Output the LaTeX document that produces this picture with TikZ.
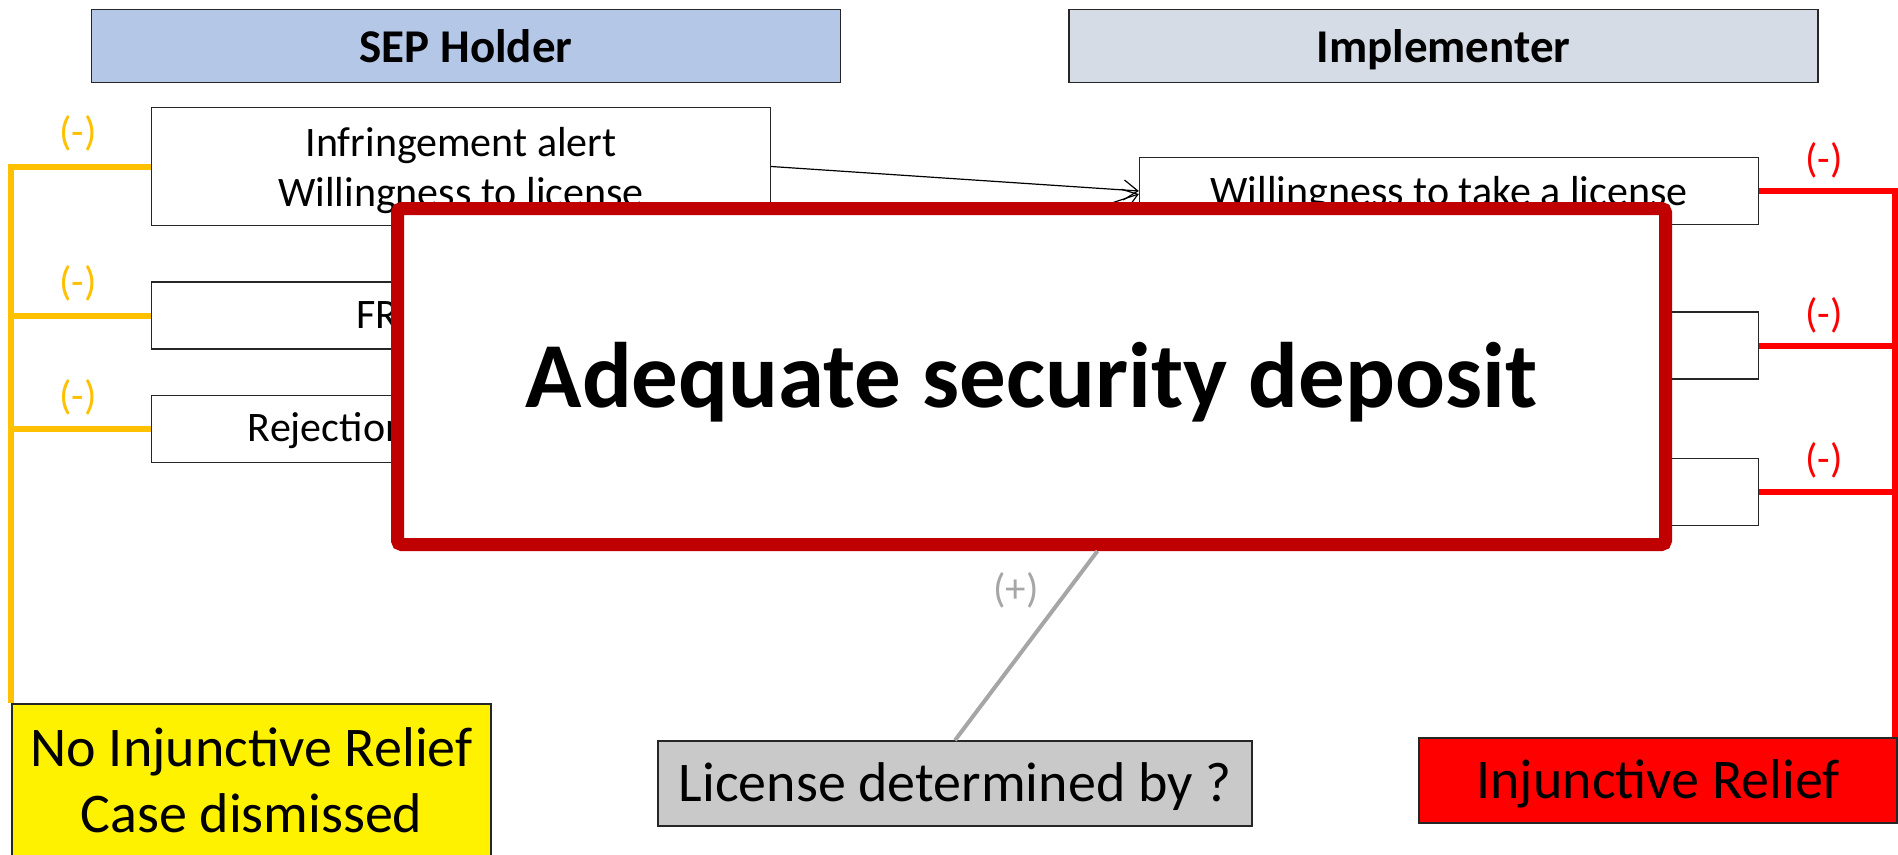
\documentclass[tikz,border=0pt]{standalone}
\usepackage{fontspec}
\setmainfont{Carlito}
\usetikzlibrary{arrows.meta}
\definecolor{hdrA}{HTML}{B4C7E7}
\definecolor{hdrB}{HTML}{D6DCE5}
\definecolor{orng}{HTML}{FFC000}
\definecolor{dred}{HTML}{C00000}
\definecolor{gbox}{HTML}{C9C9C9}
\definecolor{gline}{HTML}{A6A6A6}
\definecolor{edge}{HTML}{262626}
\begin{document}
\begin{tikzpicture}[x=1pt,y=-1pt,
  hdr/.style={draw=edge, line width=1.5pt, minimum width=749pt, minimum height=73pt, inner sep=0pt, text height=32pt, text depth=0pt, font=\fontsize{47}{55}\selectfont\bfseries},
  stepbox/.style={draw=edge, line width=1.3pt, fill=white, minimum width=619pt, inner sep=0pt, align=center, font=\fontsize{42}{50}\selectfont},
  oneline/.style={text height=28pt, text depth=3pt},
  outcome/.style={draw=edge, line width=1.5pt, inner sep=0pt, align=center, font=\fontsize{56}{66}\selectfont},
  obus/.style={draw=orng, line width=6pt},
  rbus/.style={draw=red, line width=6pt},
  flowarrow/.style={draw=black, line width=1.2pt, -{Straight Barb[length=14pt,width=20pt,line width=1.2pt]}},
  secbox/.style={draw=dred, line width=13pt, fill=white, rounded corners=4pt, minimum width=1268pt, minimum height=336pt, inner sep=0pt, text height=61pt, text depth=0pt, font=\fontsize{93}{110}\selectfont\bfseries},
  lab/.style={inner sep=0pt, font=\fontsize{41}{48}\selectfont}
]
\useasboundingbox (0,0) rectangle (1898,854);
% headers
\node[hdr, fill=hdrA] (sep) at (466,46) {SEP Holder};
\node[hdr, fill=hdrB] (imp) at (1443.5,46) {Implementer};
% step boxes
\node[stepbox, minimum height=118pt, text depth=0pt] (inf) at (461,166.5) {Infringement alert\\Willingness to license};
\node[stepbox, oneline, minimum height=67pt] (frand) at (461,315.5) {FRAND offer};
\node[stepbox, oneline, minimum height=67pt] (rej) at (461,429) {Rejection of counteroffer};
\node[stepbox, text height=29pt, text depth=0pt, minimum height=67pt] (will) at (1449,191) {Willingness to take a license};
\node[stepbox, minimum height=67pt] (imp2) at (1449,345.5) {};
\node[stepbox, minimum height=67pt] (imp3) at (1449,492) {};
% outcomes
\node[outcome, fill=yellow, minimum width=479pt, minimum height=152pt] (noinj) at (251.5,780) {No Injunctive Relief\\Case dismissed};
\node[outcome, text height=40pt, text depth=4pt, fill=gbox, minimum width=594pt, minimum height=85pt] (lic) at (955,783.5) {License determined by ?};
\node[outcome, text height=40pt, text depth=4pt, fill=red, minimum width=478pt, minimum height=85pt] (inj) at (1658,780.5) {Injunctive Relief};
% buses
\draw[obus] (inf.west) -| (noinj.north west);
\draw[obus] (frand.west) -- (frand.west -| noinj.west);
\draw[obus] (rej.west) -- (rej.west -| noinj.west);
\coordinate (bus) at ([xshift=-3pt]inj.north east);
\draw[rbus] (will.east) -| (bus);
\draw[rbus] (imp2.east) -- (imp2.east -| bus);
\draw[rbus] (imp3.east) -- (imp3.east -| bus);
% arrows
\draw[flowarrow] (inf.east) -- (will.west);
\draw[flowarrow] (frand.east) -- ([yshift=-3pt]will.west);
% overlay
\node[secbox] (sec) at (1031.5,376.5) {Adequate security deposit};
\draw[gline, line width=4pt] (lic.north) -- ([xshift=66pt]sec.south);
% labels
\node[lab, text=orng] (lo1) at (78,133) {(-)};
\node[lab, text=orng] (lo2) at (78,283) {(-)};
\node[lab, text=orng] (lo3) at (78,397) {(-)};
\node[lab, text=red] (lr1) at (1824,160) {(-)};
\node[lab, text=red] (lr2) at (1824,315) {(-)};
\node[lab, text=red] (lr3) at (1824,460) {(-)};
\node[lab, text=gline] (lp) at (1016,590) {(+)};
\end{tikzpicture}
\end{document}
